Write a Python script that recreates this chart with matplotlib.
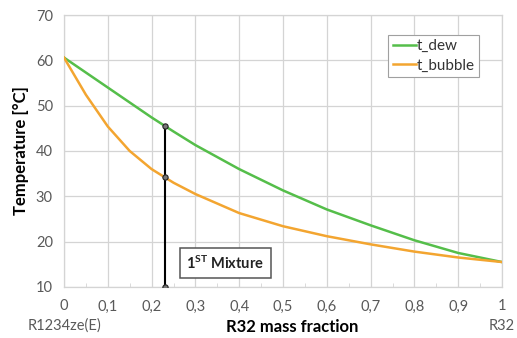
import matplotlib
matplotlib.use("Agg")
import matplotlib.pyplot as plt
from matplotlib.transforms import blended_transform_factory

plt.rcParams['font.family'] = ['Lato', 'DejaVu Sans']
plt.rcParams['mathtext.fontset'] = 'custom'
plt.rcParams['mathtext.rm'] = 'Lato'
plt.rcParams['mathtext.bf'] = 'Lato:bold'

# mass fraction of R32
x = [0, 0.05, 0.1, 0.15, 0.2, 0.25, 0.3, 0.4, 0.5, 0.6, 0.7, 0.8, 0.9, 1.0]
t_dew = [60.6, 57.3, 54.0, 50.7, 47.4, 44.3, 41.3, 36.0, 31.3, 27.1, 23.6, 20.3, 17.5, 15.5]
t_bubble = [60.6, 52.4, 45.4, 40.0, 36.0, 33.0, 30.5, 26.3, 23.4, 21.2, 19.4, 17.8, 16.5, 15.5]

# first mixture
mix_x = 0.23
mix_t = [10, 34.2, 45.5]

xticks = [0, 0.1, 0.2, 0.3, 0.4, 0.5, 0.6, 0.7, 0.8, 0.9, 1]
xticklabels = ['0', '0,1', '0,2', '0,3', '0,4', '0,5', '0,6', '0,7', '0,8', '0,9', '1']
yticks = [10, 20, 30, 40, 50, 60, 70]

green = '#55BE4A'
orange = '#F3A530'
grid_c = '#D4D4D4'
txt_c = '#595959'

fig = plt.figure(figsize=(5.17, 3.38), dpi=100)
ax = fig.add_axes([0.1238, 0.151, 0.8472, 0.8046])

ax.plot(x, t_dew, color=green, lw=1.8, label='t_dew', zorder=3)
ax.plot(x, t_bubble, color=orange, lw=1.8, label='t_bubble', zorder=3)
ax.plot([mix_x] * len(mix_t), mix_t, color='black', lw=1.5, marker='o',
        ms=3.8, mfc='#777777', mec='#222222', mew=0.8, zorder=4)

ax.set_xlim(0, 1)
ax.set_ylim(10, 70)
ax.set_xticks(xticks)
ax.set_xticklabels(xticklabels)
ax.set_yticks(yticks)
ax.set_xticks([0.05 + 0.1 * i for i in range(10)], minor=True)
ax.grid(True, color=grid_c, lw=0.9)
ax.set_axisbelow(True)
for s in ax.spines.values():
    s.set_color(grid_c)
    s.set_linewidth(0.9)
ax.tick_params(axis='both', which='major', length=0, labelsize=10.5,
               labelcolor=txt_c)
ax.tick_params(axis='y', pad=8)
ax.tick_params(axis='x', pad=9)
ax.tick_params(axis='x', which='minor', length=3, color=grid_c, direction='in')

ax.set_ylabel('Temperature [°C]', fontsize=12, fontweight='bold', labelpad=5)
ax.set_xlabel('R32 mass fraction', fontsize=12, fontweight='bold', va='center')
ax.xaxis.set_label_coords(0.52, -0.147)

tr = blended_transform_factory(ax.transData, ax.transAxes)
ax.text(0, -0.143, 'R1234ze(E)', transform=tr, ha='center', va='center',
        fontsize=10.5, color=txt_c)
ax.text(1, -0.143, 'R32', transform=tr, ha='center', va='center',
        fontsize=10.5, color=txt_c)

ax.text(0.368, 15.3, r'$\mathbf{1^{ST}}$ Mixture', ha='center', va='center',
        fontsize=10.5, fontweight='bold', color='#222222', zorder=5,
        bbox=dict(boxstyle='square,pad=0.45', fc='white', ec='#555555', lw=1.1))

leg = ax.legend(loc='upper right', bbox_to_anchor=(0.948, 0.928), fontsize=11,
                handlelength=1.5, handletextpad=0.05, fancybox=False,
                borderpad=0.3, labelspacing=0.35, borderaxespad=0,
                framealpha=1)
leg.get_frame().set_edgecolor('#A0A0A0')
leg.get_frame().set_linewidth(0.8)
for t in leg.get_texts():
    t.set_color('#333333')

fig.savefig('out.png', dpi=100)
